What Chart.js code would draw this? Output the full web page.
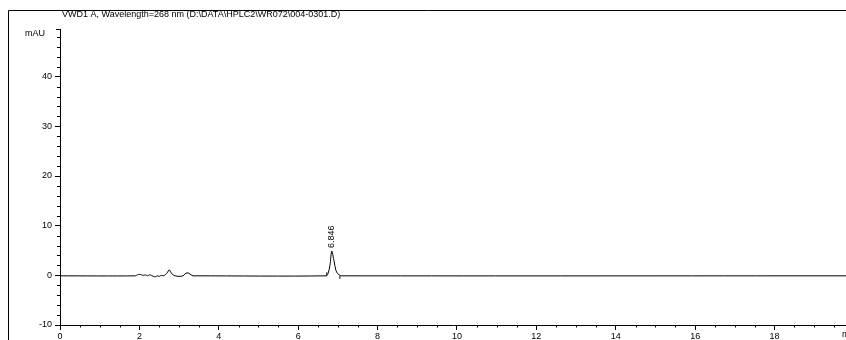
<!DOCTYPE html>
<html>
<head>
<meta charset="utf-8">
<script src="https://cdn.jsdelivr.net/npm/chart.js@4.4.0/dist/chart.umd.min.js"></script>
<style>
  html, body { margin: 0; padding: 0; background: #fff; }
  #wrap { width: 846px; height: 340px; }
</style>
</head>
<body>
<div id="wrap"><canvas id="myChart"></canvas></div>
<script>
// chromatogram trace (min, mAU)
const times = [
  0, 1.9, 1.95, 2.0, 2.05, 2.1, 2.15, 2.2, 2.25, 2.3, 2.35, 2.4, 2.45, 2.5,
  2.55, 2.6, 2.65, 2.7, 2.75, 2.8, 2.85, 2.9, 3.0, 3.1, 3.15, 3.2, 3.25,
  3.3, 3.35, 3.4, 6.7, 6.75, 6.8, 6.846, 6.9, 6.95, 7.0, 7.05, 7.1, 19.8,
];
const signal = [
  -0.1, -0.1, 0.1, 0.2, 0.1, 0.0, 0.1, -0.1, 0.1, 0.0, -0.2, -0.3, -0.1, -0.2,
  0.0, -0.1, 0.1, 0.5, 1.1, 0.5, 0.1, -0.1, -0.2, -0.1, 0.3, 0.5, 0.4,
  0.1, -0.1, -0.1, -0.1, 0.3, 2.0, 4.9, 3.0, 1.0, 0.3, 0.0, -0.1, -0.1,
];

// integration baseline markers
const markerTimes = [6.72, 7.05];
const markerTops = [0.6, -0.1];
const markerBottoms = [-0.1, -0.7];

// peak annotations
const peakTimes = [6.846];
const peakHeights = [4.9];
const peakLabels = ["6.846"];

const titleText = "VWD1 A, Wavelength=268 nm (D:\\DATA\\HPLC2\\WR072\\004-0301.D)";
const xMin = 0, xMax = 19.8;
const yMin = -10, yMax = 49.6;

const traceData = times.map((t, i) => ({ x: t, y: signal[i] }));
const markerData = [];
markerTimes.forEach((t, i) => {
  markerData.push({ x: t, y: markerBottoms[i] });
  markerData.push({ x: t, y: markerTops[i] });
  markerData.push({ x: NaN, y: NaN });
});

const FONT = "Liberation Sans, Arial, sans-serif";

const decorations = {
  id: "decorations",
  afterDraw(chart) {
    const c = chart.ctx;
    const xs = chart.scales.x;
    const ys = chart.scales.y;
    const area = chart.chartArea;
    c.save();
    c.strokeStyle = "#000";
    c.fillStyle = "#000";
    c.lineWidth = 1;

    // outer frame (top and left)
    c.beginPath();
    c.moveTo(8.5, 846);
    c.moveTo(8.5, 340);
    c.lineTo(8.5, 10.5);
    c.lineTo(846, 10.5);
    c.stroke();

    // minor ticks x
    c.beginPath();
    for (let v = 0.5; v < xMax; v += 0.5) {
      if (Math.abs(v / 2 - Math.round(v / 2)) < 1e-6) continue;
      const px = Math.round(xs.getPixelForValue(v)) + 0.5;
      c.moveTo(px, area.bottom);
      c.lineTo(px, area.bottom + 2.5);
    }
    // minor ticks y
    for (let v = -8; v < yMax; v += 2) {
      if (v % 10 === 0) continue;
      const py = Math.round(ys.getPixelForValue(v)) + 0.5;
      c.moveTo(area.left, py);
      c.lineTo(area.left - 3, py);
    }
    // top end tick
    c.moveTo(area.left, area.top + 0.5);
    c.lineTo(area.left - 4, area.top + 0.5);
    c.stroke();

    // texts
    c.font = "9px " + FONT;
    c.textBaseline = "middle";
    c.textAlign = "left";
    c.fillText(titleText, 62, 15);
    c.fillText("mAU", 25, 34);
    c.fillText("min", 842, 335);

    // peak labels
    peakTimes.forEach((t, i) => {
      const px = xs.getPixelForValue(t);
      const py = ys.getPixelForValue(peakHeights[i]) - 3;
      c.save();
      c.translate(px, py);
      c.rotate(-Math.PI / 2);
      c.textAlign = "left";
      c.textBaseline = "middle";
      c.fillText(peakLabels[i], 0, 0);
      c.restore();
    });
    c.restore();
  },
};

const ctx = document.getElementById("myChart");

const chart = new Chart(ctx, {
  type: "scatter",
  data: {
    datasets: [
      {
        label: "VWD1 A",
        data: traceData,
        showLine: true,
        borderColor: "#000",
        borderWidth: 1,
        pointRadius: 0,
        tension: 0.3,
      },
      {
        label: "markers",
        data: markerData,
        showLine: true,
        spanGaps: false,
        borderColor: "#000",
        borderWidth: 1,
        pointRadius: 0,
      },
    ],
  },
  options: {
    responsive: true,
    maintainAspectRatio: false,
    animation: false,
    layout: {
      padding: { left: 8, top: 29, right: 0, bottom: 0 },
    },
    plugins: {
      legend: { display: false },
      tooltip: { enabled: false },
    },
    scales: {
      x: {
        type: "linear",
        min: xMin,
        max: xMax,
        border: { color: "#000", width: 1 },
        grid: {
          drawOnChartArea: false,
          drawTicks: true,
          tickLength: 5,
          tickColor: "#000",
        },
        ticks: {
          stepSize: 2,
          includeBounds: false,
          maxRotation: 0,
          padding: 1,
          color: "#000",
          font: { family: FONT, size: 9 },
        },
        afterFit(scale) {
          scale.height = 15;
        },
      },
      y: {
        type: "linear",
        min: yMin,
        max: yMax,
        border: { color: "#000", width: 1 },
        grid: {
          drawOnChartArea: false,
          drawTicks: true,
          tickLength: 5,
          tickColor: "#000",
        },
        ticks: {
          stepSize: 10,
          includeBounds: false,
          padding: 3,
          color: "#000",
          font: { family: FONT, size: 9 },
        },
        afterFit(scale) {
          scale.width = 52;
        },
      },
    },
  },
  plugins: [decorations],
});
</script>
</body>
</html>
